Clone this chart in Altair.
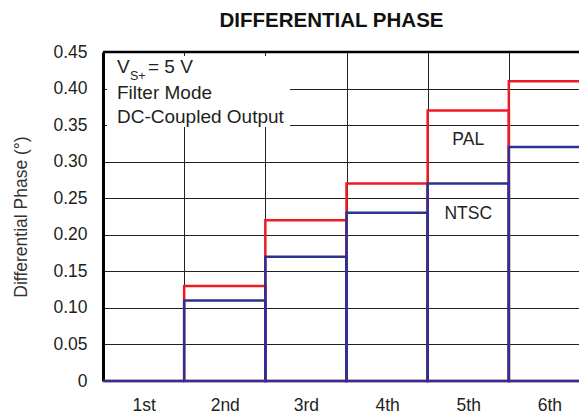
import altair as alt
import pandas as pd

FONT = "Liberation Sans"
INK = "#231f20"

categories = ["1st", "2nd", "3rd", "4th", "5th", "6th"]
pal = [0.0, 0.13, 0.22, 0.27, 0.37, 0.41]
ntsc = [0.0, 0.11, 0.17, 0.23, 0.27, 0.32]
series = ["PAL", "NTSC"]
colors = ["#ED1C24", "#2E3192"]
y_ticks = [0, 0.05, 0.10, 0.15, 0.20, 0.25, 0.30, 0.35, 0.40, 0.45]
label_text = ["PAL", "NTSC"]
label_cat = ["5th", "5th"]
label_val = [0.330, 0.228]

rows = []
for i, (name, vals) in enumerate(zip(series, [pal, ntsc])):
    for c, v in zip(categories, vals):
        rows.append({"cat": c, "series": name, "value": v, "order": i})
df = pd.DataFrame(rows)

W, H = 487, 329

x_axis = alt.Axis(
    title=None, labelAngle=0, ticks=False, domain=False, grid=True,
    tickBand="extent", gridColor="#222", gridWidth=1,
    labelFontSize=17.5, labelFont=FONT, labelColor=INK, labelPadding=15,
)
y_axis = alt.Axis(
    values=y_ticks,
    title="Differential Phase (°)",
    labelExpr="datum.value == 0 ? '0' : format(datum.value, '.2f')",
    labelOverlap=False,
    ticks=False, domainWidth=3, domainColor="#000",
    gridColor="#222", gridWidth=1,
    labelFontSize=17.5, labelFont=FONT, labelColor=INK, labelPadding=16,
    titleFont=FONT, titleFontSize=17.5, titleFontWeight="normal", titleColor="#333",
    titleX=-82, titleY=H / 2, titleAngle=270, titleBaseline="middle", titleAlign="center",
)
x_scale = alt.Scale(domain=categories, paddingInner=0, paddingOuter=0)
y_scale = alt.Scale(domain=[0, 0.45], nice=False, zero=True)

bars = alt.Chart(df).mark_bar(fillOpacity=0, strokeWidth=2.5).encode(
    x=alt.X("cat:N", sort=categories, scale=x_scale, axis=x_axis),
    y=alt.Y("value:Q", stack=None, scale=y_scale, axis=y_axis),
    stroke=alt.Stroke("series:N", scale=alt.Scale(domain=series, range=colors), legend=None),
    order=alt.Order("order:Q"),
)

lab_df = pd.DataFrame({"cat": label_cat, "value": label_val, "text": label_text})
labels = alt.Chart(lab_df).mark_text(fontSize=17.5, font=FONT, color=INK, baseline="middle").encode(
    x=alt.X("cat:N", sort=categories, scale=x_scale, axis=x_axis),
    y=alt.Y("value:Q", scale=y_scale, axis=y_axis),
    text="text:N",
)

one = pd.DataFrame({"a": [0]})
box = alt.Chart(one).mark_rect(fill="white").encode(
    x=alt.value(4), x2=alt.value(187), y=alt.value(4), y2=alt.value(75)
)

def note(txt, x, y, size=19):
    return alt.Chart(one).mark_text(
        text=txt, font=FONT, fontSize=size, color=INK, align="left", baseline="alphabetic"
    ).encode(x=alt.value(x), y=alt.value(y))

notes = [
    note("V", 14, 21),
    note("S+", 27, 28, 12.5),
    note("= 5 V", 45, 21),
    note("Filter Mode", 14, 47),
    note("DC-Coupled Output", 14, 71),
]

top = alt.Chart(one).mark_rule(color="black", strokeWidth=2.5).encode(
    x=alt.value(0), x2=alt.value(W), y=alt.value(0)
)

chart = alt.layer(box, bars, labels, *notes, top).properties(
    width=W,
    height=H,
    title=alt.TitleParams(
        "DIFFERENTIAL PHASE", font=FONT, fontSize=20.5, fontWeight="bold", color="#111",
        anchor="middle", frame="group", dx=-15, dy=8, offset=4, baseline="alphabetic",
    ),
    autosize=alt.AutoSizeParams(type="none"),
    padding={"left": 95, "top": 44, "right": -11, "bottom": 35},
).configure_view(stroke=None)

chart.save("out.html", embed_options={"renderer": "svg", "actions": False})
